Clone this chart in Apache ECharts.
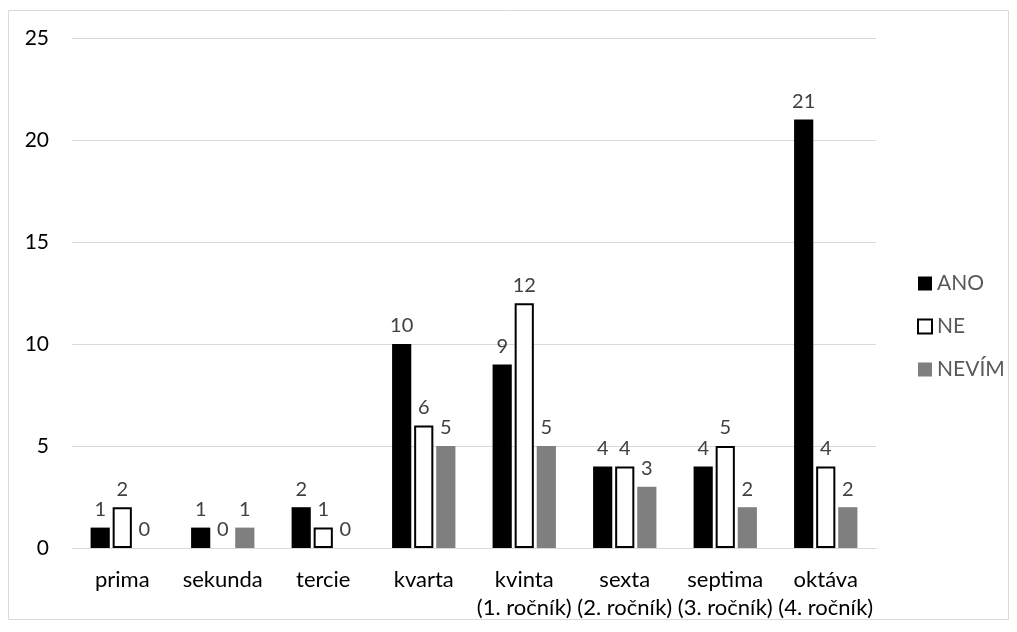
<!DOCTYPE html>
<html><head><meta charset="utf-8">
<script src="https://cdn.jsdelivr.net/npm/echarts@6/dist/echarts.min.js"></script>
<style>html,body{margin:0;padding:0;background:#fff}#c{width:1017px;height:632px}</style>
</head><body><div id="c"></div>
<script>
const categories = ['prima','sekunda','tercie','kvarta','kvinta\n(1. ročník)','sexta\n(2. ročník)','septima\n(3. ročník)','oktáva\n(4. ročník)'];
const seriesNames = ['ANO','NE','NEVÍM'];
const ano = [1,1,2,10,9,4,4,21];
const ne = [2,0,1,6,12,4,5,4];
const nevim = [0,1,0,5,5,3,2,2];
const yTicks = [0,5,10,15,20,25];

const FONT = 'Lato';
const chart = echarts.init(document.getElementById('c'));
const lbl = {show:true, position:'top', color:'#404040', fontFamily:FONT, fontSize:20, distance:8};
chart.setOption({
  animation:false,
  textStyle:{fontFamily:FONT},
  graphic:[{type:'rect', shape:{x:8.5,y:10.5,width:1000,height:609}, style:{fill:'none', stroke:'#d9d9d9', lineWidth:1}, z:-1}],
  grid:{left:72, right:141, top:38, bottom:84},
  legend:{orient:'vertical', left:912, top:268, itemGap:22, itemWidth:14, itemHeight:14, icon:'rect',
    textStyle:{color:'#595959', fontSize:21, fontFamily:FONT, padding:[0,0,0,0]},
    data:seriesNames},
  xAxis:{type:'category', data:categories,
    axisLine:{lineStyle:{color:'#d9d9d9', width:1}}, axisTick:{show:false},
    axisLabel:{color:'#000', fontSize:22, fontFamily:FONT, margin:18, lineHeight:28, interval:0}},
  yAxis:{type:'value', min:0, max:25, interval:5,
    axisLine:{show:false}, axisTick:{show:false},
    splitLine:{lineStyle:{color:'#d9d9d9', width:1}},
    axisLabel:{color:'#000', fontSize:21, fontFamily:FONT, margin:23, formatter:v=>yTicks.includes(v)?String(v):''}},
  series:[
    {name:seriesNames[0], type:'bar', data:ano, barGap:'15%', barCategoryGap:'37%', itemStyle:{color:'#000'}, label:lbl},
    {name:seriesNames[1], type:'bar', data:ne.map(v=>v===0?{value:v,itemStyle:{borderWidth:0}}:v), itemStyle:{color:'#fff', borderColor:'#000', borderWidth:2}, label:lbl},
    {name:seriesNames[2], type:'bar', data:nevim, itemStyle:{color:'#7f7f7f'}, label:lbl}
  ]
});
</script></body></html>
